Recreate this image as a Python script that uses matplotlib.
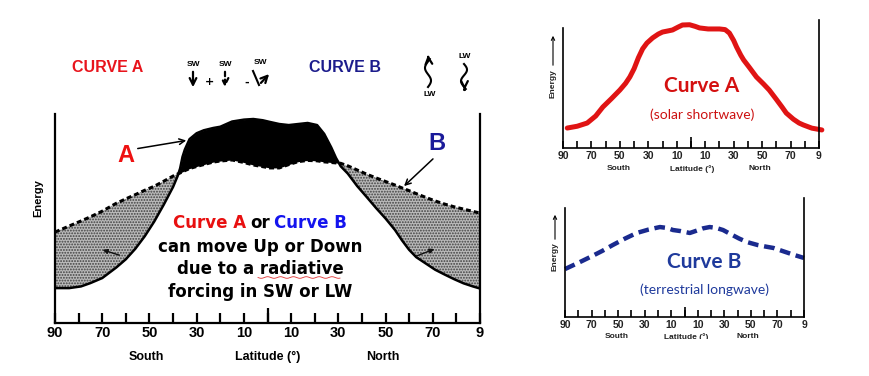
import numpy as np
import matplotlib
matplotlib.use("Agg")
import matplotlib.pyplot as plt
from matplotlib.patches import Rectangle

# main chart: absorbed solar (A) and outgoing longwave (B) vs latitude
lat = [-90, -84, -79, -75, -70, -64, -60, -56, -52, -48, -44, -40, -38, -37, -36, -35, -33, -30,
       -27, -23, -20, -15, -10, -6, -2, 1, 5, 9, 13, 17, 21, 24, 27, 29, 31, 34, 38, 42, 46, 50,
       54, 57, 60, 63, 67, 71, 75, 79, 83, 87, 90]
curve_a = [16.7, 16.7, 17.5, 19.1, 21.5, 26.6, 30.5, 35.5, 41.5, 48.5, 56.5, 65.1, 70.5, 74, 79.5,
           83, 88, 90.8, 92.2, 93.3, 93.9, 96.4, 97.3, 97.6, 97.0, 96.2, 95.2, 94.7, 95.2, 95.7,
           94.7, 90.5, 84.0, 79.0, 75.0, 71.5, 65.5, 60.3, 55, 50, 44.5, 39.5, 35, 31.5, 28.5,
           25.5, 23.2, 21, 19, 17.5, 16.5]
curve_b = [43.5, 46.4, 48.8, 50.8, 53.5, 57.3, 59.4, 61.4, 63.5, 65.4, 67.8, 70.3, 71.3, 71.8,
           72.3, 72.9, 73.9, 74.9, 75.8, 77.0, 77.5, 78.0, 76.8, 75.6, 74.8, 74.2, 74.2, 75.8,
           77.2, 77.8, 77.6, 77.1, 76.8, 76.6, 76.4, 75.2, 73.2, 71.2, 69.4, 67.7, 66.0, 64.6,
           63.3, 61.9, 60.1, 58.4, 56.9, 55.6, 54.5, 53.4, 52.6]

# small panels
lat_sw = [-87, -80, -73, -67, -62, -56, -50, -46, -43, -40, -37, -34, -31, -27, -23, -20, -16,
          -13, -9, -6, -1, 3, 6, 12, 20, 24, 27, 30, 32, 35, 37, 41, 46, 51, 55, 60, 64, 67, 72,
          76, 79, 85, 92]
energy_sw = [15.6, 17, 19.5, 25, 32, 38.5, 45.3, 50.5, 55.5, 62, 70.5, 77.5, 82, 86, 89, 90.6,
             91.5, 92.2, 94.5, 96.1, 96.3, 95, 93.8, 93, 93, 92.5, 89.8, 84, 79, 72.5, 68.8, 63,
             55.5, 50, 45.3, 38, 32, 27.3, 22.5, 19.5, 18, 15.5, 14.1]
lat_lw = [-90, -80, -71, -62, -54, -45, -36, -27, -18.5, -13, -8.7, -3, 4, 9, 14, 19, 24, 29, 35,
          41, 47, 55, 61, 67, 75, 83, 90]
energy_lw = [40.3, 45.5, 50.4, 55.5, 60.5, 65.8, 70.6, 73.5, 75.6, 74.8, 73.1, 72.2, 70.6, 72.5,
             74.5, 75.6, 74.8, 73.1, 69.5, 66, 63, 60.5, 59.2, 58, 55, 52, 49.6]

tick_pos = [-90, -70, -50, -30, -10, 10, 30, 50, 70, 90]
tick_labels = ['90', '70', '50', '30', '10', '10', '30', '50', '70', '9']

plt.rcParams['font.family'] = ['DejaVu Sans']
plt.rcParams['hatch.linewidth'] = 0.9

W, H = 869, 376
fig = plt.figure(figsize=(W / 100, H / 100), dpi=100)


def px_axes(x0, x1, y_top, y_bot):
    return fig.add_axes([x0 / W, (H - y_bot) / H, (x1 - x0) / W, (y_bot - y_top) / H])


def lat_axis(ax, left_top, tick_len, lw, fs, color='black'):
    ax.set_xlim(-90, 90)
    ax.set_ylim(0, 100)
    ax.spines['top'].set_visible(False)
    ax.spines['left'].set_bounds(0, left_top)
    for s in ['left', 'right', 'bottom']:
        ax.spines[s].set_linewidth(lw)
    ax.set_yticks([])
    ax.set_xticks(tick_pos)
    ax.set_xticklabels(tick_labels, fontsize=fs, fontweight='bold', color=color,
                       family='Liberation Sans')
    ax.set_xticks(np.arange(-80, 90, 20), minor=True)
    ax.tick_params(axis='x', which='both', direction='in', length=tick_len, width=lw, pad=2)
    ax.vlines(0, 0, tick_len * 2.1 / (ax.bbox.height) * 100, color='black', lw=lw)
    ax.patch.set_alpha(0)


# ---- main chart ----
ax = px_axes(55, 480, 114, 323)
lat_axis(ax, 100, 7, 1.6, 10.5)
a = np.array(curve_a)
b = np.array(curve_b)
ax.fill_between(lat, a, b, where=a >= b, interpolate=True, color='black', lw=0)
ax.fill_between(lat, a, b, where=b >= a, interpolate=True, facecolor='#bababa',
                hatch='......', edgecolor='#404040', lw=0)
ax.plot(lat, a, color='black', lw=1.8)
ax.plot(lat, b, color='black', lw=2.2, dashes=(1.6, 1.0))

# ---- top right: curve A ----
ax2 = px_axes(563, 819, 20, 148)
lat_axis(ax2, 93.75, 5, 1.2, 7.5, '#222222')
ax2.plot(lat_sw, energy_sw, color='#e01414', lw=3.6, clip_on=False,
         solid_capstyle='round', solid_joinstyle='round')

# ---- bottom right: curve B ----
ax3 = px_axes(565, 804, 198, 317)
lat_axis(ax3, 91.6, 5, 1.2, 7.5, '#222222')
ax3.plot(lat_lw, energy_lw, color='#1a2a8e', lw=3.2, dashes=(2.4, 1.3), clip_on=False)

# ---- overlay in pixel coordinates for annotations ----
ov = fig.add_axes([0, 0, 1, 1], zorder=5)
ov.set_xlim(0, W)
ov.set_ylim(H, 0)
ov.axis('off')
ov.patch.set_alpha(0)

# header
ov.text(108, 68, 'CURVE A', color='#e8141c', fontsize=11.5, fontweight='bold',
        family='Liberation Sans', ha='center', va='center')
ov.text(345, 68, 'CURVE B', color='#1c1c8c', fontsize=11.5, fontweight='bold',
        family='Liberation Sans', ha='center', va='center')

small = dict(fontsize=6, fontweight='bold', family='Liberation Sans', ha='center', va='center')
arrow_kw = dict(arrowstyle='->', lw=1.6, color='black', mutation_scale=12)
for x in (193, 225):
    ov.text(x, 64, 'SW', **small)
ov.annotate('', xy=(193, 90), xytext=(193, 69), arrowprops=arrow_kw)
ov.annotate('', xy=(225, 90), xytext=(225, 69), arrowprops=dict(arrow_kw, linestyle=(0, (2, 1.5))))
ov.text(209, 82, '+', fontsize=8, fontweight='bold', ha='center', va='center')
ov.text(247, 83, '-', fontsize=8, fontweight='bold', ha='center', va='center')
ov.text(260, 63, 'SW', **small)
ov.plot([253, 259], [71, 85], color='black', lw=1.5)
ov.annotate('', xy=(271, 72), xytext=(259, 85), arrowprops=arrow_kw)

# wavy LW arrows
t = np.linspace(0, 1, 60)
wy = 87 - 28 * t
ov.plot(428 + 3 * np.sin(t * 2.2 * np.pi), wy, color='black', lw=1.5)
ov.annotate('', xy=(428, 55), xytext=(428.5, 60), arrowprops=arrow_kw)
ov.text(430, 95, 'LW', **small)
wy2 = 64 + 25 * t
ov.plot(464 + 3 * np.sin(t * 2.2 * np.pi), wy2, color='black', lw=1.5)
ov.annotate('', xy=(464.5, 93), xytext=(464.5, 87), arrowprops=arrow_kw)
ov.text(465, 57, 'LW', **small)

# main chart labels
ov.text(126, 156, 'A', color='#ee1111', fontsize=17, fontweight='bold', family='Liberation Sans',
        ha='center', va='center')
ov.text(437, 144, 'B', color='#1a1a9a', fontsize=17, fontweight='bold', family='Liberation Sans',
        ha='center', va='center')
ov.annotate('', xy=(189, 140), xytext=(135, 149), arrowprops=dict(arrowstyle='->', lw=1.1))
ov.annotate('', xy=(402, 188), xytext=(435, 157), arrowprops=dict(arrowstyle='->', lw=1.1))
ov.annotate('', xy=(100, 249), xytext=(122, 256),
            arrowprops=dict(arrowstyle='-|>', lw=1.0, mutation_scale=7, color='#111111'))
ov.annotate('', xy=(437, 248), xytext=(414, 257),
            arrowprops=dict(arrowstyle='-|>', lw=1.0, mutation_scale=7, color='#111111'))

body = dict(fontsize=12, fontweight='bold', va='center')
ov.text(246, 223, 'Curve A', color='#e81010', ha='right', **body)
ov.text(260, 223, 'or', color='black', ha='center', **body)
ov.text(274, 223, 'Curve B', color='#1414ee', ha='left', **body)
ov.text(260, 247, 'can move Up or Down', ha='center', **body)
ov.text(260, 269, 'due to a radiative', ha='center', **body)
ov.text(260, 292, 'forcing in SW or LW', ha='center', **body)
ov.plot(np.linspace(258, 340, 60), 277.5 + 0.8 * np.sin(np.linspace(0, 40, 60)), color='#e03030', lw=0.6)

ov.text(38, 198, 'Energy', rotation=90, fontsize=8, fontweight='bold', family='Liberation Sans',
        ha='center', va='center')
axis_lab = dict(fontsize=9, fontweight='bold', family='Liberation Sans', ha='center', va='center')
ov.text(146, 357, 'South', **axis_lab)
ov.text(268, 357, 'Latitude (°)', **axis_lab)
ov.text(383, 357, 'North', **axis_lab)

# small panel labels
sm_lab = dict(fontsize=6, fontweight='bold', family='Liberation Sans', ha='center', va='center',
              color='#222222')
ov.text(619, 169, 'South', **sm_lab)
ov.text(692, 169, 'Latitude (°)', **sm_lab)
ov.text(760, 169, 'North', **sm_lab)
ov.text(553, 84, 'Energy', rotation=90, **sm_lab)
ov.annotate('', xy=(553, 33), xytext=(553, 68), arrowprops=dict(arrowstyle='->', lw=0.8, mutation_scale=6))

ov.text(617, 337, 'South', **sm_lab)
ov.text(686, 337, 'Latitude (°)', **sm_lab)
ov.text(748, 337, 'North', **sm_lab)
ov.add_patch(Rectangle((560, 338.5), 260, 20, facecolor='white', edgecolor='none', zorder=6))
ov.text(555, 257, 'Energy', rotation=90, **sm_lab)
ov.annotate('', xy=(555, 212), xytext=(555, 242), arrowprops=dict(arrowstyle='->', lw=0.8, mutation_scale=6))

ov.text(702, 86, 'Curve A', color='#d41010', fontsize=15, fontweight='bold', family='Lato',
        ha='center', va='center')
ov.text(702, 115, '(solar shortwave)', color='#cc1111', fontsize=10, family='Lato',
        ha='center', va='center')
ov.text(704, 262, 'Curve B', color='#1f3a9c', fontsize=15, fontweight='bold', family='Lato',
        ha='center', va='center')
ov.text(705, 290, '(terrestrial longwave)', color='#1f3a9c', fontsize=10, family='Lato',
        ha='center', va='center')

fig.savefig('out.png', dpi=100, facecolor='white')
